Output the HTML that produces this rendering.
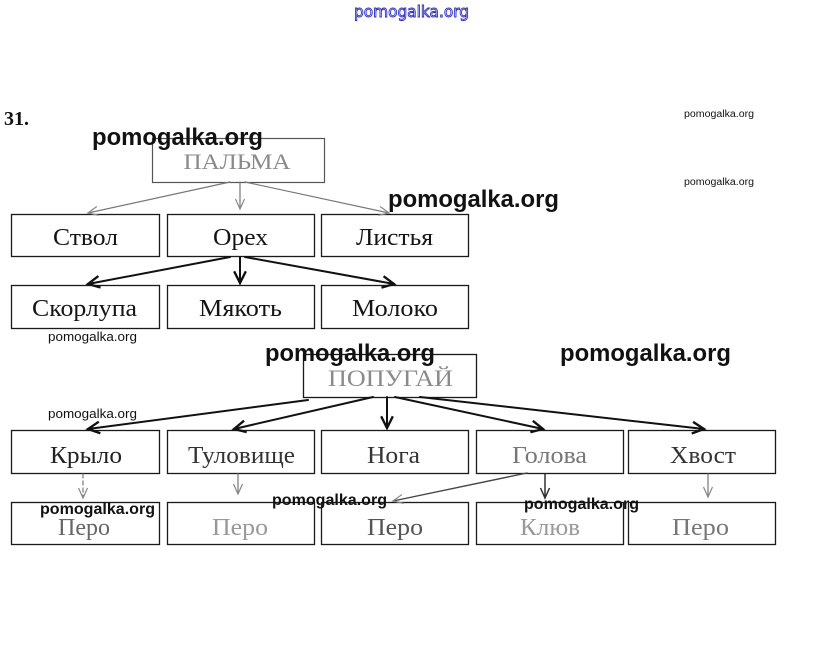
<!DOCTYPE html>
<html><head><meta charset="utf-8">
<style>
html,body{margin:0;padding:0;background:#fff;}
svg{display:block;}
</style></head>
<body>
<svg width="823" height="657" viewBox="0 0 823 657" xmlns="http://www.w3.org/2000/svg">
<defs>
<marker id="ab" markerUnits="userSpaceOnUse" markerWidth="14" markerHeight="14" viewBox="0 0 12 12" refX="11" refY="6" orient="auto" overflow="visible">
<path d="M1,1 L11,6 L1,11" fill="none" stroke="#111" stroke-width="2"/>
</marker>
<marker id="ag" markerUnits="userSpaceOnUse" markerWidth="12" markerHeight="12" viewBox="0 0 12 12" refX="11" refY="6" orient="auto" overflow="visible">
<path d="M1,1.5 L11,6 L1,10.5" fill="none" stroke="#888" stroke-width="1.2"/>
</marker>
<marker id="ad" markerUnits="userSpaceOnUse" markerWidth="12" markerHeight="12" viewBox="0 0 12 12" refX="11" refY="6" orient="auto" overflow="visible">
<path d="M1,1.5 L11,6 L1,10.5" fill="none" stroke="#333" stroke-width="1.5"/>
</marker>
</defs>
<rect width="823" height="657" fill="#fff"/>

<!-- top blue watermark -->
<text x="411.5" y="17" text-anchor="middle" textLength="115" lengthAdjust="spacingAndGlyphs" font-family="'DejaVu Sans', sans-serif" font-size="16" fill="#fff" stroke="#2a2ad0" stroke-width="0.9">pomogalka.org</text>

<!-- 31. -->
<text x="4" y="125" font-family="'Liberation Serif', serif" font-weight="bold" font-size="20" fill="#111">31.</text>

<g fill="none" stroke-linecap="square">
<!-- boxes -->
<rect x="152.5" y="138.5" width="172" height="44" stroke="#555" stroke-width="1.2"/>
<g stroke="#1a1a1a" stroke-width="1.3">
<rect x="11.5" y="214.5" width="148" height="42"/>
<rect x="167.5" y="214.5" width="147" height="42"/>
<rect x="321.5" y="214.5" width="147" height="42"/>
<rect x="11.5" y="285.5" width="148" height="43"/>
<rect x="167.5" y="285.5" width="147" height="43"/>
<rect x="321.5" y="285.5" width="147" height="43"/>
<rect x="303.5" y="354.5" width="173" height="43"/>
<rect x="11.5" y="430.5" width="148" height="43"/>
<rect x="167.5" y="430.5" width="147" height="43"/>
<rect x="321.5" y="430.5" width="147" height="43"/>
<rect x="476.5" y="430.5" width="147" height="43"/>
<rect x="628.5" y="430.5" width="147" height="43"/>
<rect x="11.5" y="502.5" width="148" height="42"/>
<rect x="167.5" y="502.5" width="147" height="42"/>
<rect x="321.5" y="502.5" width="147" height="42"/>
<rect x="476.5" y="502.5" width="147" height="42"/>
<rect x="628.5" y="502.5" width="147" height="42"/>
</g>
</g>

<!-- connectors -->
<g fill="none" stroke-linecap="round">
<g stroke="#777" stroke-width="1.2">
<line x1="230" y1="182" x2="88" y2="213" marker-end="url(#ag)"/>
<line x1="240" y1="182" x2="240" y2="209" marker-end="url(#ag)"/>
<line x1="245" y1="182" x2="389" y2="213" marker-end="url(#ag)"/>
</g>
<g stroke="#111" stroke-width="2">
<line x1="230" y1="257" x2="88" y2="284" marker-end="url(#ab)"/>
<line x1="240" y1="257" x2="240" y2="283" marker-end="url(#ab)"/>
<line x1="245" y1="257" x2="394" y2="284" marker-end="url(#ab)"/>
<line x1="308" y1="400" x2="88" y2="429" marker-end="url(#ab)"/>
<line x1="373" y1="397" x2="234" y2="429" marker-end="url(#ab)"/>
<line x1="387" y1="397" x2="387" y2="428" marker-end="url(#ab)"/>
<line x1="395" y1="397" x2="543" y2="429" marker-end="url(#ab)"/>
<line x1="420" y1="397" x2="704" y2="429" marker-end="url(#ab)"/>
</g>
<g stroke="#777" stroke-width="1.2">
<line x1="83" y1="474" x2="83" y2="498" stroke-dasharray="4,3" marker-end="url(#ag)"/>
<line x1="238" y1="474" x2="238" y2="494" marker-end="url(#ag)"/>
<line x1="708" y1="474" x2="708" y2="497" marker-end="url(#ag)"/>
</g>
<line x1="527" y1="473" x2="393" y2="501" stroke="#444" stroke-width="1.4" marker-end="url(#ag)"/>
<line x1="545" y1="474" x2="545" y2="498" stroke="#222" stroke-width="1.4" marker-end="url(#ad)"/>
</g>

<!-- node labels -->
<g font-family="'Liberation Serif', serif" font-size="24" text-anchor="middle">
<text x="237" y="169" font-size="22" fill="#8a8a8a" textLength="107" lengthAdjust="spacingAndGlyphs">ПАЛЬМА</text>
<text x="85.5" y="245" fill="#151515" textLength="65" lengthAdjust="spacingAndGlyphs">Ствол</text>
<text x="240.5" y="245" fill="#151515" textLength="55" lengthAdjust="spacingAndGlyphs">Орех</text>
<text x="394.5" y="245" fill="#151515" textLength="77" lengthAdjust="spacingAndGlyphs">Листья</text>
<text x="84.5" y="316" fill="#151515" textLength="105" lengthAdjust="spacingAndGlyphs">Скорлупа</text>
<text x="240.5" y="316" fill="#151515" textLength="83" lengthAdjust="spacingAndGlyphs">Мякоть</text>
<text x="395" y="316" fill="#151515" textLength="86" lengthAdjust="spacingAndGlyphs">Молоко</text>
<text x="390.5" y="386" font-size="23" fill="#8a8a8a" textLength="125" lengthAdjust="spacingAndGlyphs">ПОПУГАЙ</text>
<text x="86" y="463" fill="#222" textLength="72" lengthAdjust="spacingAndGlyphs">Крыло</text>
<text x="241.5" y="463" fill="#333" textLength="107" lengthAdjust="spacingAndGlyphs">Туловище</text>
<text x="393.5" y="463" fill="#333" textLength="53" lengthAdjust="spacingAndGlyphs">Нога</text>
<text x="549.5" y="463" fill="#777" textLength="75" lengthAdjust="spacingAndGlyphs">Голова</text>
<text x="703" y="463" fill="#333" textLength="66" lengthAdjust="spacingAndGlyphs">Хвост</text>
<text x="84" y="535" fill="#666" textLength="52" lengthAdjust="spacingAndGlyphs">Перо</text>
<text x="240" y="535" fill="#999" textLength="56" lengthAdjust="spacingAndGlyphs">Перо</text>
<text x="395" y="535" fill="#555" textLength="56" lengthAdjust="spacingAndGlyphs">Перо</text>
<text x="550" y="535" fill="#999" textLength="60" lengthAdjust="spacingAndGlyphs">Клюв</text>
<text x="700.5" y="535" fill="#777" textLength="57" lengthAdjust="spacingAndGlyphs">Перо</text>
</g>

<!-- watermarks -->
<g font-family="'Liberation Sans', sans-serif" fill="#111">
<text x="92" y="145" font-size="24" font-weight="bold" textLength="171" lengthAdjust="spacingAndGlyphs">pomogalka.org</text>
<text x="388" y="207" font-size="24" font-weight="bold" textLength="171" lengthAdjust="spacingAndGlyphs">pomogalka.org</text>
<text x="265" y="361" font-size="24" font-weight="bold" textLength="170" lengthAdjust="spacingAndGlyphs">pomogalka.org</text>
<text x="560" y="361" font-size="24" font-weight="bold" textLength="171" lengthAdjust="spacingAndGlyphs">pomogalka.org</text>
<text x="684" y="117" font-size="10" textLength="70" lengthAdjust="spacingAndGlyphs">pomogalka.org</text>
<text x="684" y="185" font-size="10" textLength="70" lengthAdjust="spacingAndGlyphs">pomogalka.org</text>
<text x="48" y="341" font-size="12.5" textLength="89" lengthAdjust="spacingAndGlyphs">pomogalka.org</text>
<text x="48" y="418" font-size="12.5" textLength="89" lengthAdjust="spacingAndGlyphs">pomogalka.org</text>
<text x="40" y="514" font-size="16" font-weight="bold" textLength="115" lengthAdjust="spacingAndGlyphs">pomogalka.org</text>
<text x="272" y="505" font-size="16" font-weight="bold" textLength="115" lengthAdjust="spacingAndGlyphs">pomogalka.org</text>
<text x="524" y="509" font-size="16" font-weight="bold" textLength="115" lengthAdjust="spacingAndGlyphs">pomogalka.org</text>
</g>
</svg>
</body></html>
